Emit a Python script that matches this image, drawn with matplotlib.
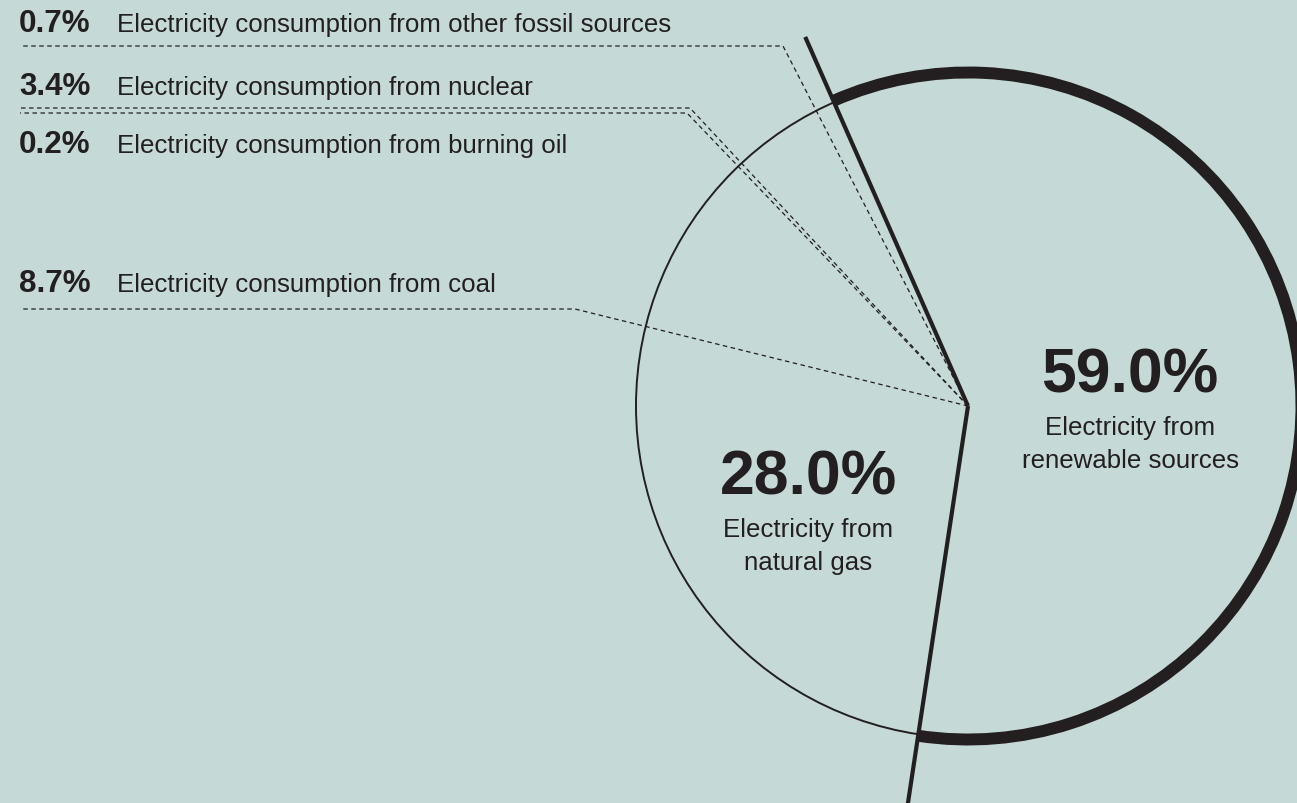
import matplotlib
matplotlib.use("Agg")
import matplotlib.pyplot as plt
from matplotlib.patches import Arc, Circle
import numpy as np

# electricity mix, in pie order (clockwise, starting at the top edge of renewables)
sources = ["renewable", "natural gas", "coal", "nuclear", "burning oil", "other fossil"]
shares = [59.0, 28.0, 8.7, 3.4, 0.2, 0.7]

big_labels = {
    "renewable": ["Electricity from", "renewable sources"],
    "natural gas": ["Electricity from", "natural gas"],
}
small_labels = {
    "coal": "Electricity consumption from coal",
    "nuclear": "Electricity consumption from nuclear",
    "burning oil": "Electricity consumption from burning oil",
    "other fossil": "Electricity consumption from other fossil sources",
}

BG = "#c5d9d6"
INK = "#231f20"
W, H = 1297, 804

cx, cy, r = 968, 397, 332

# where the callouts sit: (text baseline y, elbow x, elbow y) in canvas units
callouts = {
    "other fossil": (772, 783, 757),
    "nuclear": (709, 690, 695),
    "burning oil": (651, 687, 690),
    "coal": (512, 575, 494),
}
# centre x and baseline of the big percentage for the two main slices
big_pos = {
    "renewable": (1130, 411),
    "natural gas": (808, 309),
}


def main():
    fig = plt.figure(figsize=(W / 100, H / 100), dpi=100, facecolor=BG)
    ax = fig.add_axes([0, 0, 1, 1])
    ax.set_facecolor(BG)

    wedges, _ = ax.pie(shares, center=(cx, cy), radius=r, startangle=113.8,
                       counterclock=False,
                       wedgeprops=dict(fill=False, linewidth=0))

    # thin outline of the whole pie
    ax.add_patch(Circle((cx, cy), r, fill=False, lw=1.4, ec=INK, zorder=2))

    # renewables: heavy rim plus the two long dividers
    ren = wedges[0]
    ax.add_patch(Arc((cx, cy), 2 * (r + 1.5), 2 * (r + 1.5), theta1=ren.theta1,
                     theta2=ren.theta2, lw=8.6, color=INK, zorder=3))
    for ang in (ren.theta1, ren.theta2):
        t = np.deg2rad(ang)
        ax.plot([cx, cx + 1.215 * r * np.cos(t)], [cy, cy + 1.215 * r * np.sin(t)],
                color=INK, lw=3, solid_capstyle="butt", zorder=4)

    # dashed callouts for the small slices
    for name, val in zip(sources, shares):
        if name not in small_labels:
            continue
        base, ex, ey = callouts[name]
        ax.plot([cx, ex, 20], [cy, ey, ey], color=INK, lw=0.9,
                linestyle=(0, (3.6, 2.8)), zorder=1)
        ax.text(19, base, f"{val:.1f}%", fontsize=22.6, fontweight="bold",
                family="Liberation Sans", color=INK, va="baseline", ha="left")
        ax.text(117, base, small_labels[name], fontsize=18.6,
                family="Liberation Sans", color=INK, va="baseline", ha="left")

    # big labels inside the two main slices
    for name, val in zip(sources, shares):
        if name not in big_labels:
            continue
        x, base = big_pos[name]
        ax.text(x, base, f"{val:.1f}%", fontsize=45, fontweight="bold",
                family="Liberation Sans", color=INK, va="baseline", ha="center")
        for i, line in enumerate(big_labels[name]):
            ax.text(x, base - 42 - 33 * i, line, fontsize=18.6,
                    family="Liberation Sans", color=INK, va="baseline",
                    ha="center")

    ax.set_xlim(0, W)
    ax.set_ylim(0, H)
    ax.set_aspect("auto")
    ax.axis("off")
    fig.savefig("out.png", dpi=100, facecolor=BG)


if __name__ == "__main__":
    main()
